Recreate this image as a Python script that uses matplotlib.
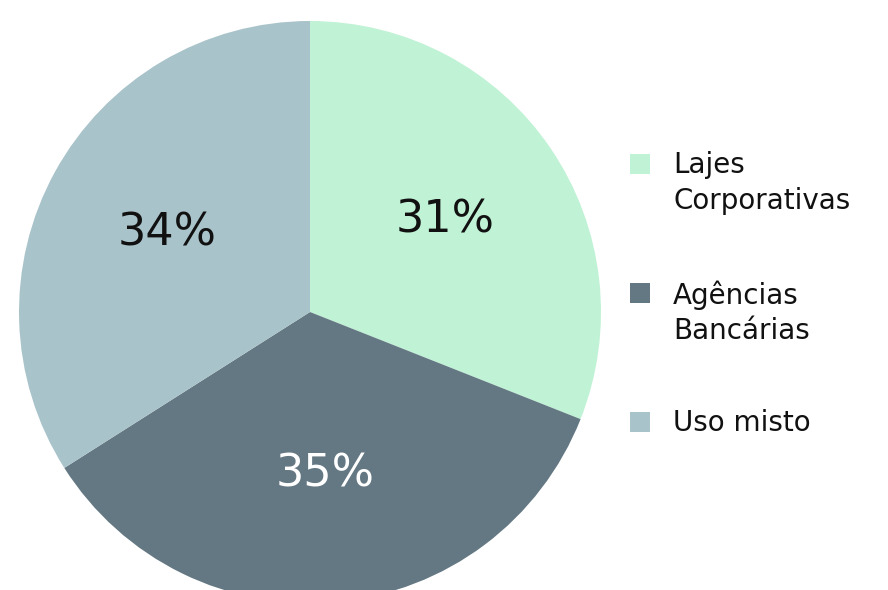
import matplotlib
matplotlib.use('Agg')
import matplotlib.pyplot as plt
from matplotlib.patches import Rectangle

plt.rcParams['font.family'] = ['DejaVu Sans']

categories = ['Lajes\nCorporativas', 'Agências\nBancárias', 'Uso misto']
shares = [31, 35, 34]
colors = ['#C0F2D5', '#647883', '#A9C3CA']
pct_colors = ['#111111', '#FFFFFF', '#111111']

W, H = 888, 590
DPI = 100


def px(x, y):
    """Pixel coords (origin top-left) to figure fraction."""
    return x / W, 1 - y / H


fig = plt.figure(figsize=(W / DPI, H / DPI), dpi=DPI)

# pie sits on the left, running slightly past the bottom edge
cx, cy, r = 310, 312, 291
ax = fig.add_axes([(cx - r) / W, (H - cy - r) / H, 2 * r / W, 2 * r / H])
wedges, _, autotexts = ax.pie(
    shares,
    colors=colors,
    startangle=90,
    counterclock=False,
    radius=1,
    autopct='%d%%',
    pctdistance=0.56,
    wedgeprops={'linewidth': 0},
    textprops={'fontsize': 32},
)
for t, c in zip(autotexts, pct_colors):
    t.set_color(c)
ax.set_xlim(-1, 1)
ax.set_ylim(-1, 1)
ax.set_aspect('equal')
ax.axis('off')

# legend: square swatch aligned with the first line of each label
row_tops = [154, 283, 412]
for label, color, top in zip(categories, colors, row_tops):
    x0, y0 = px(630, top + 20)
    fig.add_artist(Rectangle((x0, y0), 20 / W, 20 / H,
                             transform=fig.transFigure,
                             facecolor=color, edgecolor='none'))
    tx, ty = px(673, top - 3)
    fig.text(tx, ty, label, fontsize=20, color='#111111',
             va='top', ha='left', linespacing=1.35)

fig.savefig('out.png', dpi=DPI)
